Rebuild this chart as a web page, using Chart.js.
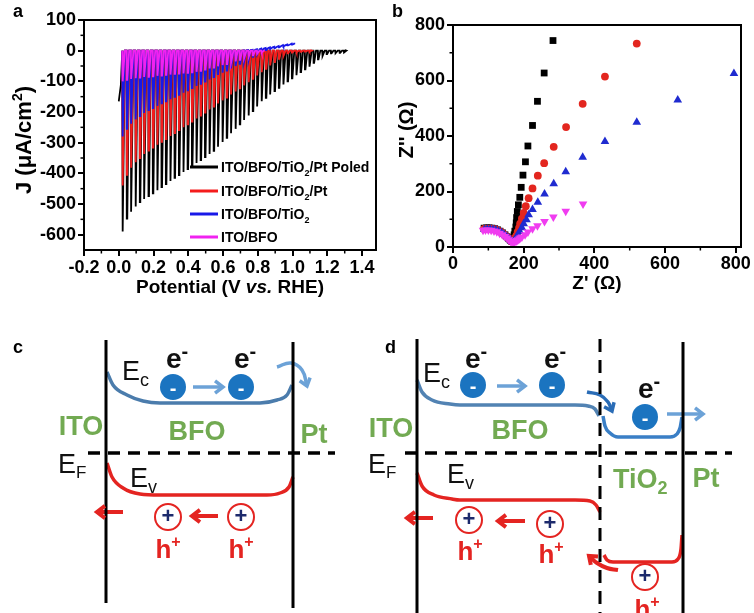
<!DOCTYPE html>
<html>
<head>
<meta charset="utf-8">
<script src="https://cdn.jsdelivr.net/npm/chart.js@4.4.1/dist/chart.umd.min.js"></script>
<style>
  body { margin: 0; background: #fff; }
  #wrap { position: relative; width: 754px; height: 613px; overflow: hidden; background: #fff; }
  canvas { position: absolute; }
</style>
</head>
<body>
<div id="wrap">
  <canvas id="chartA" width="380" height="300" style="left:0;top:0"></canvas>
  <canvas id="chartB" width="374" height="300" style="left:380px;top:0"></canvas>
  <canvas id="chartC" width="380" height="313" style="left:0;top:300px"></canvas>
  <canvas id="chartD" width="394" height="313" style="left:360px;top:300px"></canvas>
</div>
<script>
const FONT = 'Liberation Sans, Arial, Helvetica, sans-serif';
Chart.defaults.font.family = FONT;
Chart.defaults.color = '#000';

// ---------- panel a : chopped light J-V ----------
const chopV = [0.020,0.045,0.070,0.095,0.120,0.145,0.170,0.195,0.220,0.245,0.270,0.295,
  0.320,0.345,0.370,0.395,0.420,0.445,0.470,0.495,0.520,0.545,0.570,0.595,
  0.620,0.645,0.670,0.695,0.720,0.745,0.770,0.795,0.820,0.845,0.870,0.895,
  0.920,0.945,0.970,0.995,1.020,1.045,1.070,1.095,1.120,1.145,1.170,1.195,
  1.220,1.245,1.270,1.295];
const leadV = [0.000, 0.012];
const blackLead = [-165, -112];
const blackPeak = [-590,-548,-525,-508,-494,-484,-474,-465,-455,-445,-435,-425,
  -415,-406,-396,-386,-376,-366,-357,-347,-337,-327,-313,-298,
  -284,-269,-255,-240,-226,-211,-197,-182,-165,-154,-143,-132,
  -121,-110,-100,-90,-80,-70,-61,-52,-40,-28,-17,-11,
  -9,-8,-7,-6];
const redPeak = [-440,-405,-382,-364,-350,-337,-326,-316,-307,-297,-288,-278,
  -269,-259,-250,-240,-231,-221,-212,-202,-192,-182,-172,-162,
  -153,-143,-133,-123,-113,-103,-92,-81,-70,-59,-48,-37,
  -27,-17,-9,-6,-5,-4,-3,-3];
const bluePeak = [-280,-255,-238,-224,-213,-203,-194,-187,-180,-172,-165,-158,
  -151,-144,-137,-129,-122,-115,-108,-101,-94,-86,-79,-72,
  -65,-58,-50,-43,-36,-29,-20,-12,-5,2,5,8,
  11,14,17,20];
const blueDark = [0,0,0,0,0,0,0,0,0,0,0,0,
  0,0,0,0,0,0,0,0,0,0,0,0,
  0,0,0,0,1,2,3,5,7,9,11,13,
  15,18,20,23];
const magentaPeak = [-100,-95,-92,-90,-88,-86,-85,-84,-82,-81,-79,-78,
  -76,-75,-74,-72,-71,-69,-66,-62,-58,-55,-51,-47,
  -44,-40,-35,-30,-25,-20,-15,-10,-6];
const endV = [1.30, 1.10, 1.01, 0.84];
const endJ = [2, 2, 26, 0];
const jvLabels = ['ITO/BFO/TiO₂/Pt Poled', 'ITO/BFO/TiO₂/Pt', 'ITO/BFO/TiO₂', 'ITO/BFO'];
const jvColors = ['#000000', '#f41c1c', '#1818e8', '#f022f0'];
const potTicks = [-0.2, 0.0, 0.2, 0.4, 0.6, 0.8, 1.0, 1.2, 1.4];
const jTicks = [-600, -500, -400, -300, -200, -100, 0, 100];

// ---------- panel b : Nyquist ----------
const nyqBlackX = [88,95,102,110,118,126,133,140,147,153,158,162,166,169,171,173,175,178,179,180,182,185,189,193,198,205,212,225,239,258,283];
const nyqBlackY = [68,69,69,68,66,62,57,51,44,37,30,25,21,22,33,44,57,72,87,106,128,152,179,215,259,307,364,438,525,627,744];
const nyqRedX = [88,96,104,112,120,128,136,143,150,156,161,165,169,172,175,179,183,187,190,195,200,206,214,225,240,258,285,320,367,430,520];
const nyqRedY = [65,66,66,65,63,59,54,47,40,33,26,21,20,25,32,40,54,69,84,102,123,147,176,211,257,302,361,432,516,614,733];
const nyqBlueX = [89,97,105,113,121,129,137,144,151,157,162,166,170,173,177,180,183,189,195,200,208,214,225,240,259,285,319,367,430,520,636,795];
const nyqBlueY = [63,64,64,63,61,57,52,46,39,32,26,21,19,21,26,33,45,56,69,84,98,116,135,161,191,228,271,323,380,450,530,625];
const nyqMagX = [85,92,100,108,116,124,132,140,147,153,158,163,167,171,174,178,181,184,188,191,195,204,212,225,239,259,284,319,368];
const nyqMagY = [60,61,61,60,58,55,50,44,38,32,26,21,18,18,19,21,23,26,30,33,36,44,54,66,77,92,108,129,155];
const zTicks = [0, 200, 400, 600, 800];

// ---------- panels c, d : band diagrams (diagram units, y downward) ----------
const cItoEdge = [[106, 40], [106, 303]];
const cPtEdge = [[293, 42], [293, 308]];
const cFermi = [[88, 153], [335, 153]];
const cEc = [[107,72],[113,85],[127,95],[143,101],[160,103],[260,103],[277,100],[287,95],[292,85]];
const cEv = [[107,163],[112,177],[123,188],[140,194],[160,195],[267,195],[280,193],[289,187],[293,177]];
const cElectrons = [[173,87],[241,87]];
const cHoles = [[168,217],[241,217]];
const cElecArrow = [[193,87],[223,87]];
const cOutArrow = [[277,67],[291,63],[302,70],[307,86]];
const cHoleArrowL = [[123,212],[97,212]];
const cHoleArrowM = [[218,216],[192,216]];

const dItoEdge = [[57, 39], [57, 313]];
const dJunction = [[240, 39], [240, 313]];
const dPtEdge = [[323, 42], [323, 313]];
const dFermi = [[45, 153], [372, 153]];
const dEcBfo = [[57,80],[62,92],[72,100],[90,104],[100,105],[215,105],[228,106],[235,109],[239,116]];
const dEcTio = [[243,116],[245,126],[250,133],[258,137],[310,137],[317,134],[320,128],[322,117]];
const dEvBfo = [[57,173],[62,186],[74,195],[92,199],[100,200],[215,200],[230,201],[236,205],[240,212]];
const dEvTio = [[244,255],[247,260],[253,262],[312,262],[318,259],[321,249],[322,235]];
const dElectrons = [[113,85],[192,85],[285,117]];
const dHoles = [[109,220],[190,224],[285,277]];
const dElecArrow1 = [[137,86],[165,86]];
const dElecArrow2 = [[307,114],[343,114]];
const dDropArrow = [[227,92],[240,95],[248,102],[252,111]];
const dHoleArrowL = [[73,218],[47,218]];
const dHoleArrowM = [[165,221],[138,221]];
const dRiseArrow = [[258,270],[247,268],[237,263],[229,256]];

const GREEN = '#72aa52', RED = '#e42421', NAVY = '#1c2a6c';
const EBLUE = '#1b74c0', LBLUE = '#6ca2d7', BAND = '#4b7cac';

// ---------- helpers ----------
function rich(ctx, x, y, segs, align) {
  const fonts = segs.map(s => (s[4] ? 'italic ' : '') + (s[3] ? 'bold ' : '') + s[1] + 'px ' + FONT);
  let w = 0;
  const ws = segs.map((s, i) => { ctx.font = fonts[i]; const m = ctx.measureText(s[0]).width; w += m; return m; });
  let cx = align === 'center' ? x - w / 2 : align === 'right' ? x - w : x;
  ctx.textAlign = 'left';
  ctx.textBaseline = 'alphabetic';
  segs.forEach((s, i) => { ctx.font = fonts[i]; ctx.fillText(s[0], cx, y + s[2]); cx += ws[i]; });
}

function uniSegs(str, px) {
  const segs = [];
  let buf = '';
  for (const ch of str) {
    if (ch === '₂' || ch === '²') {
      if (buf) segs.push([buf, px, 0, true]);
      buf = '';
      segs.push(['2', Math.round(px * 0.64), ch === '₂' ? px * 0.3 : -px * 0.42, true]);
    } else buf += ch;
  }
  if (buf) segs.push([buf, px, 0, true]);
  return segs;
}

// light on at each chop potential: sharp drop to the peak, short hold, back to the dark current
function chopped(peak, dark, lead, vEnd, jEnd) {
  const pts = lead ? lead.map((j, i) => ({x: leadV[i], y: j})) : [];
  peak.forEach((p, i) => {
    const d = dark ? dark[i] : 0;
    const v = chopV[i];
    pts.push({x: v, y: d}, {x: v + 0.001, y: p}, {x: v + 0.004, y: p}, {x: v + 0.015, y: d});
  });
  pts.push({x: vEnd, y: jEnd});
  return pts;
}

function axis(min, max, ticks, fmt, fit, pad) {
  return {
    type: 'linear', min: min, max: max,
    afterBuildTicks: s => { s.ticks = ticks.map(v => ({value: v})); },
    afterFit: fit,
    ticks: {callback: fmt, font: {size: 18, weight: 'bold'}, color: '#000', padding: pad, autoSkip: false, maxRotation: 0},
    grid: {drawOnChartArea: false, color: '#000', lineWidth: 2, tickLength: 6},
    border: {color: '#000', width: 2}
  };
}

const framePlugin = {
  id: 'frame',
  afterDraw(chart) {
    const ctx = chart.ctx, ca = chart.chartArea;
    ctx.save();
    ctx.strokeStyle = '#000';
    ctx.lineWidth = 2;
    ctx.strokeRect(ca.left, ca.top, ca.right - ca.left, ca.bottom - ca.top);
    ctx.lineWidth = 1.5;
    ['x', 'y'].forEach(id => {
      const s = chart.scales[id];
      const t = s.ticks.map(k => k.value);
      for (let i = 0; i + 1 < t.length; i++) {
        const p = s.getPixelForValue((t[i] + t[i + 1]) / 2);
        ctx.beginPath();
        if (id === 'x') { ctx.moveTo(p, ca.bottom); ctx.lineTo(p, ca.bottom + 3.5); }
        else { ctx.moveTo(ca.left, p); ctx.lineTo(ca.left - 3.5, p); }
        ctx.stroke();
      }
    });
    ctx.restore();
  }
};

// ---------- chart a ----------
const jvSets = [blackPeak, redPeak, bluePeak, magentaPeak].map((pk, k) => ({
  label: jvLabels[k],
  data: chopped(pk, k === 2 ? blueDark : null, k === 0 ? blackLead : null, endV[k], endJ[k]),
  borderColor: jvColors[k], backgroundColor: jvColors[k],
  borderWidth: 1.8, pointRadius: 0, showLine: true, order: 4 - k
}));

new Chart(document.getElementById('chartA'), {
  type: 'scatter',
  data: {datasets: jvSets},
  options: {
    responsive: false, animation: false, devicePixelRatio: 1, events: [],
    layout: {padding: {top: 20, right: 4, left: 0, bottom: 0}, autoPadding: false},
    plugins: {legend: {display: false}, tooltip: {enabled: false}},
    scales: {
      x: axis(-0.2, 1.48, potTicks, v => v.toFixed(1), s => { s.height = 50; }, 1),
      y: axis(-650, 100, jTicks, v => String(v), s => { s.width = 84; }, 2)
    }
  },
  plugins: [framePlugin, {
    id: 'decoA',
    afterDraw(chart) {
      const ctx = chart.ctx;
      const rows = [167, 191, 214, 237];
      ctx.save();
      ctx.fillStyle = '#000';
      rich(ctx, 13, 17, [['a', 18, 0, true]], 'left');
      chart.data.datasets.forEach((ds, i) => {
        ctx.strokeStyle = ds.borderColor;
        ctx.lineWidth = 3;
        ctx.beginPath();
        ctx.moveTo(190, rows[i]);
        ctx.lineTo(218, rows[i]);
        ctx.stroke();
        ctx.fillStyle = '#000';
        rich(ctx, 221, rows[i] + 5, uniSegs(ds.label, 14), 'left');
      });
      rich(ctx, 230, 293, [['Potential (V ', 19, 0, true], ['vs.', 19, 0, true, true], [' RHE)', 19, 0, true]], 'center');
      ctx.translate(24, 140);
      ctx.rotate(-Math.PI / 2);
      rich(ctx, 0, 7, uniSegs('J (μA/cm²)', 22), 'center');
      ctx.restore();
    }
  }]
});

// ---------- chart b ----------
const zip = (xs, ys) => xs.map((x, i) => ({x: x, y: ys[i]}));
new Chart(document.getElementById('chartB'), {
  type: 'scatter',
  data: {datasets: [
    {label: 'ITO/BFO/TiO₂/Pt Poled', data: zip(nyqBlackX, nyqBlackY), pointStyle: 'rect', pointRadius: 4.8, backgroundColor: '#000', borderWidth: 0, order: 4},
    {label: 'ITO/BFO/TiO₂/Pt', data: zip(nyqRedX, nyqRedY), pointStyle: 'circle', pointRadius: 3.9, backgroundColor: '#e3261f', borderWidth: 0, order: 3},
    {label: 'ITO/BFO/TiO₂', data: zip(nyqBlueX, nyqBlueY), pointStyle: 'triangle', pointRadius: 5, backgroundColor: '#1f2bd0', borderWidth: 0, order: 2},
    {label: 'ITO/BFO', data: zip(nyqMagX, nyqMagY), pointStyle: 'triangle', pointRotation: 180, pointRadius: 5, backgroundColor: '#f03cf0', borderWidth: 0, order: 1}
  ]},
  options: {
    responsive: false, animation: false, devicePixelRatio: 1, events: [],
    layout: {padding: {top: 25, right: 13, left: 0, bottom: 0}, autoPadding: false},
    plugins: {legend: {display: false}, tooltip: {enabled: false}},
    scales: {
      x: axis(0, 815, zTicks, v => String(v), s => { s.height = 53; }, 0),
      y: axis(0, 800, zTicks, v => String(v), s => { s.width = 73; }, 2)
    }
  },
  plugins: [framePlugin, {
    id: 'decoB',
    afterDraw(chart) {
      const ctx = chart.ctx;
      ctx.save();
      ctx.fillStyle = '#000';
      rich(ctx, 12, 17, [['b', 18, 0, true]], 'left');
      rich(ctx, 217, 289, [["Z' (Ω)", 19, 0, true]], 'center');
      ctx.translate(26, 130);
      ctx.rotate(-Math.PI / 2);
      rich(ctx, 0, 7, [["Z'' (Ω)", 20, 0, true]], 'center');
      ctx.restore();
    }
  }]
});

// ---------- band diagrams ----------
const arrowHeads = {
  id: 'arrowHeads',
  afterDatasetsDraw(chart) {
    const ctx = chart.ctx;
    ctx.save();
    chart.data.datasets.forEach((ds, i) => {
      const pts = chart.getDatasetMeta(i).data;
      if (ds.arrow) {
        const p = pts[pts.length - 1];
        const q = (p.cp1x !== undefined && (p.cp1x !== p.x || p.cp1y !== p.y)) ? {x: p.cp1x, y: p.cp1y} : pts[pts.length - 2];
        const a = Math.atan2(p.y - q.y, p.x - q.x);
        const L = ds.headSize || 10;
        ctx.strokeStyle = ds.borderColor;
        ctx.lineWidth = ds.borderWidth;
        ctx.lineJoin = 'miter';
        ctx.setLineDash([]);
        ctx.beginPath();
        ctx.moveTo(p.x - L * Math.cos(a - 0.65), p.y - L * Math.sin(a - 0.65));
        ctx.lineTo(p.x, p.y);
        ctx.lineTo(p.x - L * Math.cos(a + 0.65), p.y - L * Math.sin(a + 0.65));
        ctx.stroke();
      }
      if (ds.glyph) {
        ctx.fillStyle = ds.glyphColor;
        ctx.font = 'bold ' + ds.glyphSize + 'px ' + FONT;
        ctx.textAlign = 'center';
        ctx.textBaseline = 'middle';
        pts.forEach(p => ctx.fillText(ds.glyph, p.x, p.y + ds.glyphDy));
      }
    });
    ctx.restore();
  }
};

function bandChart(canvasId, w, h, lines, dots, texts) {
  const datasets = lines.map(l => ({
    data: l.pts.map(p => ({x: p[0], y: p[1]})),
    showLine: true, pointRadius: 0, borderColor: l.color, borderWidth: l.width,
    borderDash: l.dash || [], tension: l.bend ? 0.45 : 0,
    cubicInterpolationMode: l.mono ? 'monotone' : 'default',
    borderCapStyle: 'butt', arrow: !!l.arrow, headSize: l.head, order: 2
  })).concat(dots.map(d => ({
    data: d.pts.map(p => ({x: p[0], y: p[1]})),
    pointRadius: 13, pointStyle: 'circle', backgroundColor: d.fill,
    borderColor: d.stroke || d.fill, borderWidth: d.stroke ? 2 : 0,
    glyph: d.glyph, glyphColor: d.glyphColor, glyphSize: d.glyphSize, glyphDy: d.glyphDy, order: 1
  })));
  return new Chart(document.getElementById(canvasId), {
    type: 'scatter',
    data: {datasets: datasets},
    options: {
      responsive: false, animation: false, devicePixelRatio: 1, events: [],
      layout: {padding: 0, autoPadding: false},
      plugins: {legend: {display: false}, tooltip: {enabled: false}},
      scales: {
        x: {type: 'linear', min: 0, max: w, display: false},
        y: {type: 'linear', min: 0, max: h, reverse: true, display: false}
      }
    },
    plugins: [arrowHeads, {
      id: 'bandText',
      afterDraw(chart) {
        const ctx = chart.ctx, sx = chart.scales.x, sy = chart.scales.y;
        ctx.save();
        texts.forEach(t => {
          ctx.fillStyle = t.color;
          rich(ctx, sx.getPixelForValue(t.x), sy.getPixelForValue(t.y), t.segs, t.align || 'left');
        });
        ctx.restore();
      }
    }]
  });
}

const electronDots = pts => ({pts: pts, fill: EBLUE, glyph: '-', glyphColor: '#fff', glyphSize: 20, glyphDy: 2});
const holeDots = pts => ({pts: pts, fill: '#fff', stroke: RED, glyph: '+', glyphColor: NAVY, glyphSize: 22, glyphDy: 0});
const eLabel = (x, y) => ({x: x, y: y, segs: [['e', 28, 0, true], ['-', 20, -10, true]], color: '#111', align: 'center'});
const hLabel = (x, y) => ({x: x, y: y, segs: [['h', 26, 0, true], ['+', 16, -11, true]], color: RED, align: 'center'});
const eSym = (x, y, s) => ({x: x, y: y, segs: [['E', 27, 0], [s, 18, 6]], color: '#111'});
const green = (x, y, s) => ({x: x, y: y, segs: [[s, 27, 0, true]], color: GREEN, align: 'center'});

bandChart('chartC', 380, 313, [
  {pts: cItoEdge, color: '#000', width: 3},
  {pts: cPtEdge, color: '#000', width: 3},
  {pts: cFermi, color: '#000', width: 3.5, dash: [12, 8]},
  {pts: cEc, color: BAND, width: 3.5, mono: true},
  {pts: cEv, color: RED, width: 3.5, mono: true},
  {pts: cElecArrow, color: LBLUE, width: 3.5, arrow: true},
  {pts: cOutArrow, color: LBLUE, width: 3.5, arrow: true, bend: true, head: 9},
  {pts: cHoleArrowL, color: RED, width: 4, arrow: true},
  {pts: cHoleArrowM, color: RED, width: 4, arrow: true}
], [electronDots(cElectrons), holeDots(cHoles)], [
  {x: 13, y: 53, segs: [['c', 18, 0, true]], color: '#000'},
  eSym(122, 80, 'c'),
  eLabel(177, 68), eLabel(245, 68),
  green(81, 135, 'ITO'), green(197, 140, 'BFO'), green(314, 143, 'Pt'),
  {x: 58, y: 173, segs: [['E', 27, 0], ['F', 17, 5]], color: '#111'},
  eSym(130, 187, 'v'),
  hLabel(168, 258), hLabel(241, 258)
]);

bandChart('chartD', 394, 313, [
  {pts: dItoEdge, color: '#000', width: 3},
  {pts: dJunction, color: '#000', width: 3, dash: [13, 8]},
  {pts: dPtEdge, color: '#000', width: 3},
  {pts: dFermi, color: '#000', width: 3.5, dash: [12, 8]},
  {pts: dEcBfo, color: '#5283b3', width: 3.5, mono: true},
  {pts: dEcTio, color: '#3a7fc6', width: 3.5, mono: true},
  {pts: dEvBfo, color: RED, width: 3.5, mono: true},
  {pts: dEvTio, color: RED, width: 3.5, mono: true},
  {pts: dElecArrow1, color: LBLUE, width: 3.5, arrow: true},
  {pts: dElecArrow2, color: LBLUE, width: 3.5, arrow: true},
  {pts: dDropArrow, color: '#2a6cb6', width: 3.5, arrow: true, bend: true, head: 9},
  {pts: dHoleArrowL, color: RED, width: 4, arrow: true},
  {pts: dHoleArrowM, color: RED, width: 4, arrow: true},
  {pts: dRiseArrow, color: RED, width: 4, arrow: true, bend: true, head: 9}
], [electronDots(dElectrons), holeDots(dHoles)], [
  {x: 25, y: 53, segs: [['d', 18, 0, true]], color: '#000'},
  green(31, 137, 'ITO'),
  {x: 8, y: 173, segs: [['E', 27, 0], ['F', 17, 5]], color: '#111'},
  eSym(63, 82, 'c'),
  eLabel(116, 68), eLabel(195, 68), eLabel(289, 98),
  green(160, 139, 'BFO'),
  eSym(87, 183, 'v'),
  {x: 253, y: 188, segs: [['TiO', 27, 0, true], ['2', 18, 6, true]], color: GREEN},
  green(346, 187, 'Pt'),
  hLabel(110, 260), hLabel(191, 263), hLabel(287, 318)
]);
</script>
</body>
</html>
